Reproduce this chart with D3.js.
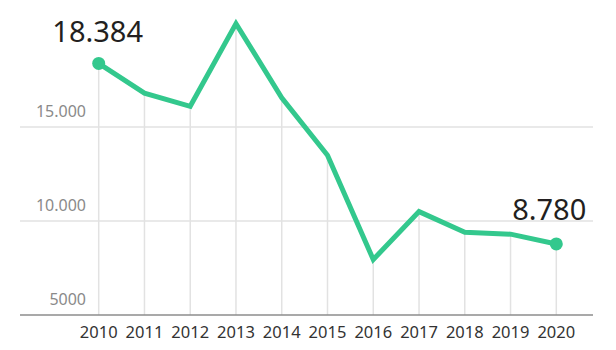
<!DOCTYPE html>
<html>
<head>
<meta charset="utf-8">
<script src="https://cdn.jsdelivr.net/npm/d3@7"></script>
<style>
  body { margin: 0; background: #fff; }
  text { font-family: "Noto Sans", sans-serif; }
</style>
</head>
<body>
<script>
/* data */
var years = [2010, 2011, 2012, 2013, 2014, 2015, 2016, 2017, 2018, 2019, 2020];
var values = [18384, 16800, 16100, 20500, 16550, 13500, 7950, 10500, 9400, 9300, 8780];
var yTicks = [5000, 10000, 15000];
var yTickLabels = ["5000", "10.000", "15.000"];
var endLabels = ["18.384", "8.780"];

var width = 616, height = 350;

var svg = d3.select("body").append("svg")
    .attr("width", width)
    .attr("height", height);

/* scales */
var x = d3.scaleLinear()
    .domain([2010, 2020])
    .range([98.7, 556.3]);

var y = d3.scaleLinear()
    .domain([5000, 15000])
    .range([315, 127]);

/* horizontal grid lines */
svg.append("g").selectAll("line")
    .data(yTicks.slice(1))
    .enter().append("line")
    .attr("x1", 20).attr("x2", 593)
    .attr("y1", function (d) { return y(d); })
    .attr("y2", function (d) { return y(d); })
    .style("stroke", "#e2e2e2")
    .style("stroke-width", 1.5);

/* vertical drop lines */
svg.append("g").selectAll("line")
    .data(years)
    .enter().append("line")
    .attr("x1", function (d) { return x(d); })
    .attr("x2", function (d) { return x(d); })
    .attr("y1", function (d, i) { return y(values[i]); })
    .attr("y2", y(5000))
    .style("stroke", "#e2e2e2")
    .style("stroke-width", 1.5);

/* baseline */
svg.append("line")
    .attr("x1", 20).attr("x2", 593)
    .attr("y1", y(5000)).attr("y2", y(5000))
    .style("stroke", "#8c8c8c")
    .style("stroke-width", 1.5);

/* y tick labels */
svg.append("g").selectAll("text")
    .data(yTicks)
    .enter().append("text")
    .attr("x", 86)
    .attr("y", function (d) { return y(d) - 10; })
    .attr("text-anchor", "end")
    .style("font-size", "16px")
    .style("fill", "#8a8a8a")
    .text(function (d, i) { return yTickLabels[i]; });

/* x axis labels */
svg.append("g").selectAll("text")
    .data(years)
    .enter().append("text")
    .attr("x", function (d) { return x(d); })
    .attr("y", 338)
    .attr("text-anchor", "middle")
    .style("font-size", "16.5px")
    .style("fill", "#333")
    .text(function (d) { return d; });

/* the line */
var line = d3.line()
    .x(function (d, i) { return x(years[i]); })
    .y(function (d) { return y(d); });

svg.append("path")
    .datum(values)
    .attr("d", line)
    .style("fill", "none")
    .style("stroke", "#33c88d")
    .style("stroke-width", 5)
    .style("stroke-linejoin", "miter");

/* end dots */
var ends = [0, years.length - 1];
svg.append("g").selectAll("circle")
    .data(ends)
    .enter().append("circle")
    .attr("cx", function (i) { return x(years[i]); })
    .attr("cy", function (i) { return y(values[i]); })
    .attr("r", 6.5)
    .style("fill", "#33c88d");

/* end value labels */
svg.append("text")
    .attr("x", x(years[0]) - 1)
    .attr("y", y(values[0]) - 21)
    .attr("text-anchor", "middle")
    .style("font-size", "29px")
    .style("fill", "#231f20")
    .text(endLabels[0]);

svg.append("text")
    .attr("x", x(years[years.length - 1]) + 30)
    .attr("y", y(values[values.length - 1]) - 24)
    .attr("text-anchor", "end")
    .style("font-size", "29px")
    .style("fill", "#231f20")
    .text(endLabels[1]);
</script>
</body>
</html>
